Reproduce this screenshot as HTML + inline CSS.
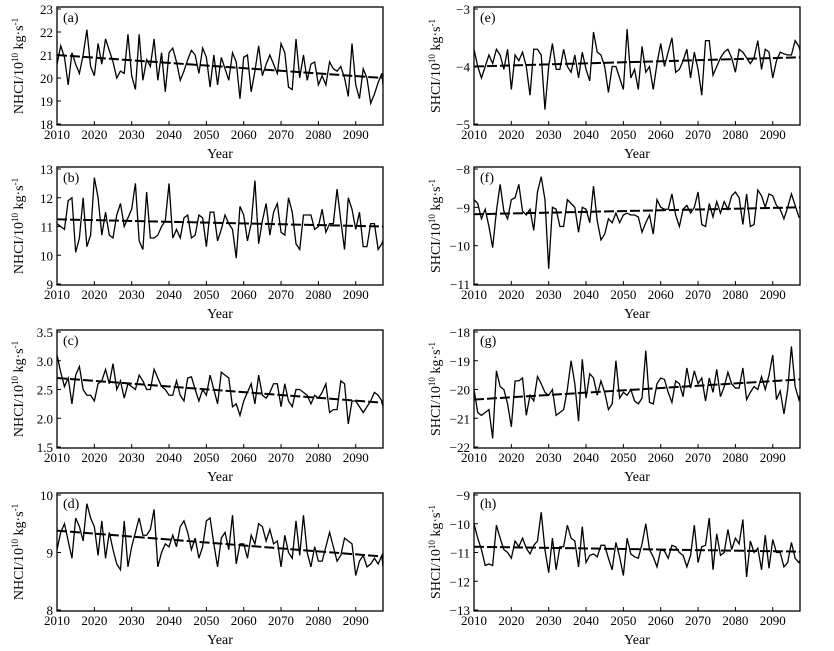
<!DOCTYPE html>
<html><head><meta charset="utf-8"><style>
html,body{margin:0;padding:0;background:#fff;}
svg{display:block;font-family:"Liberation Serif",serif;}
</style></head><body>
<svg id="c" width="834" height="651" viewBox="0 0 834 651"></svg>
<script>
const startYear = 2010;
const xTicks = [2010,2020,2030,2040,2050,2060,2070,2080,2090];
const valuesA = [20.6,21.4,20.9,19.7,21.1,20.6,20.2,21.0,22.1,20.5,20.1,21.5,20.6,21.7,21.2,20.7,20.0,20.3,20.2,21.9,20.1,19.5,21.9,19.9,20.8,20.5,21.7,19.9,21.1,19.4,21.1,21.3,20.7,19.9,20.3,20.8,21.2,21.0,20.2,21.3,20.9,19.6,21.0,19.7,20.9,20.4,19.9,21.1,20.7,19.1,20.9,21.0,19.4,20.3,21.4,20.1,20.6,21.0,20.6,20.2,21.5,21.1,19.6,19.5,21.7,20.0,21.0,19.9,20.6,20.7,19.7,20.1,19.7,20.7,20.4,20.3,20.5,20.0,19.2,21.5,19.7,19.1,20.4,20.0,18.9,19.3,19.8,20.2,18.6];
const valuesB = [11.1,11.0,10.9,11.9,12.0,10.1,10.6,12.0,10.3,10.7,12.7,12.0,10.7,11.5,10.7,10.6,11.4,11.8,11.0,11.3,11.6,12.5,10.5,10.2,12.2,10.6,10.6,10.7,11.0,11.2,12.5,10.6,10.9,10.6,11.3,11.4,10.6,10.7,11.4,11.3,10.3,11.5,11.5,10.5,10.9,11.4,11.1,10.9,9.9,11.7,11.4,10.5,11.1,12.6,10.4,11.2,11.8,10.7,11.5,11.8,10.8,10.7,12.0,11.5,10.4,10.2,11.4,11.4,11.4,10.9,11.0,11.6,10.8,11.1,11.1,12.3,11.2,10.2,12.0,11.6,10.9,11.5,10.3,10.3,11.1,11.1,10.2,10.4,10.8,12.0,9.8];
const valuesC = [3.1,2.8,2.55,2.7,2.25,2.75,2.9,2.5,2.4,2.4,2.3,2.6,2.65,2.85,2.6,2.95,2.5,2.65,2.35,2.6,2.55,2.5,2.75,2.65,2.5,2.5,2.85,2.7,2.55,2.5,2.4,2.4,2.65,2.4,2.3,2.7,2.72,2.5,2.3,2.5,2.4,2.75,2.5,2.25,2.8,2.75,2.7,2.2,2.25,2.05,2.3,2.45,2.6,2.25,2.75,2.4,2.35,2.45,2.6,2.6,2.2,2.6,2.3,2.2,2.5,2.5,2.45,2.4,2.25,2.4,2.35,2.45,2.6,2.1,2.15,2.15,2.65,2.6,1.9,2.3,2.3,2.2,2.1,2.2,2.3,2.45,2.4,2.3,1.95,2.2];
const valuesD = [9.05,9.35,9.5,9.2,8.9,9.6,9.45,9.2,9.85,9.6,9.45,8.95,9.55,8.9,9.35,9.05,8.8,8.7,9.55,8.75,9.1,9.35,9.6,9.3,9.3,9.4,9.75,8.75,9.0,9.15,9.1,9.3,9.1,9.45,9.55,9.35,9.05,9.25,8.9,9.1,9.55,9.6,9.15,8.75,9.25,9.35,9.05,9.65,8.8,9.15,9.15,8.9,9.3,9.15,9.5,9.45,9.2,9.4,9.15,9.2,8.75,9.3,9.0,8.9,9.55,8.95,9.65,9.0,8.75,9.1,8.85,8.85,9.1,9.35,9.1,8.85,8.95,9.25,9.2,9.15,8.6,8.85,8.95,8.75,8.8,8.9,8.8,8.95,8.3,8.7];
const valuesE = [-3.7,-4.0,-4.2,-4.0,-3.8,-3.95,-3.7,-3.8,-4.05,-3.7,-4.4,-3.8,-3.9,-3.75,-4.0,-4.5,-3.7,-3.7,-3.8,-4.75,-4.0,-3.6,-4.05,-4.05,-3.7,-4.0,-4.1,-3.8,-4.2,-3.75,-4.05,-4.25,-3.4,-3.75,-3.8,-4.0,-4.45,-4.0,-4.0,-4.2,-4.4,-3.35,-4.2,-4.05,-4.4,-3.65,-4.1,-4.0,-4.4,-3.95,-3.6,-4.0,-3.75,-3.5,-4.1,-4.05,-3.9,-3.7,-4.2,-3.75,-4.05,-4.5,-3.55,-3.55,-4.15,-4.0,-3.85,-3.75,-3.7,-3.85,-4.1,-3.7,-3.75,-3.85,-3.95,-3.85,-3.55,-4.05,-3.7,-3.75,-4.2,-3.9,-3.75,-3.78,-3.8,-3.8,-3.55,-3.65,-3.9];
const valuesF = [-8.8,-8.9,-9.3,-9.05,-9.5,-10.05,-9.1,-8.4,-9.1,-9.3,-8.8,-8.75,-8.4,-9.1,-9.2,-9.05,-9.6,-8.6,-8.2,-8.8,-10.6,-9.0,-9.05,-9.5,-9.5,-8.8,-8.9,-9.0,-9.65,-9.0,-9.05,-9.4,-8.45,-9.35,-9.85,-9.7,-9.3,-9.4,-9.15,-9.4,-9.2,-9.15,-9.2,-9.2,-9.25,-9.65,-9.4,-9.2,-9.7,-8.8,-9.0,-9.05,-9.05,-8.65,-9.2,-9.5,-9.05,-8.95,-9.15,-9.0,-8.6,-9.45,-9.5,-8.9,-9.25,-8.85,-9.15,-8.85,-9.05,-8.7,-8.6,-8.75,-9.45,-8.65,-9.5,-9.45,-8.55,-8.7,-9.0,-8.65,-8.7,-8.95,-9.05,-9.3,-9.0,-8.65,-8.95,-9.25,-9.25,-9.0];
const valuesG = [-20.0,-20.8,-20.9,-20.8,-20.7,-21.7,-19.35,-19.9,-20.0,-20.5,-21.3,-19.7,-19.7,-19.6,-20.9,-20.2,-20.4,-19.55,-19.8,-20.1,-20.2,-20.0,-20.9,-20.8,-20.7,-20.0,-19.0,-19.8,-21.1,-18.95,-20.3,-19.45,-19.6,-20.2,-19.7,-20.1,-20.7,-20.5,-19.0,-20.3,-20.1,-20.2,-20.0,-20.4,-20.5,-20.3,-18.65,-20.45,-20.5,-19.8,-19.6,-19.65,-20.1,-20.45,-19.7,-19.8,-20.25,-19.25,-19.95,-19.35,-19.8,-19.6,-20.4,-19.6,-20.1,-19.3,-20.25,-19.9,-19.4,-19.8,-19.95,-19.95,-19.25,-20.35,-20.1,-19.9,-20.0,-19.55,-20.0,-19.5,-18.8,-20.35,-20.05,-20.85,-20.0,-18.5,-19.9,-20.35,-19.8,-19.6];
const valuesH = [-10.0,-10.5,-10.9,-11.45,-11.4,-11.45,-10.05,-10.5,-10.9,-11.0,-11.2,-10.6,-10.8,-10.5,-10.85,-11.05,-10.75,-10.6,-9.6,-10.9,-11.7,-10.5,-11.6,-10.8,-10.8,-10.05,-10.5,-10.6,-11.5,-10.1,-11.35,-11.1,-11.05,-11.15,-10.75,-10.75,-11.2,-11.6,-10.65,-11.15,-11.8,-10.5,-11.05,-11.15,-11.2,-10.7,-10.0,-10.9,-11.15,-11.5,-10.9,-10.95,-11.2,-10.75,-10.8,-11.0,-11.1,-11.5,-11.1,-10.05,-11.35,-10.8,-10.75,-9.8,-11.6,-10.35,-11.1,-11.0,-10.2,-10.9,-10.5,-10.7,-9.85,-11.85,-10.6,-11.0,-10.85,-11.6,-10.4,-11.55,-10.55,-11.0,-11.0,-11.5,-11.35,-10.65,-11.2,-11.35,-11.1,-10.9];
const trendA = [21.0,20.0];
const trendB = [11.25,11.0];
const trendC = [2.7,2.27];
const trendD = [9.38,8.93];
const trendE = [-4.0,-3.84];
const trendF = [-9.18,-9.0];
const trendG = [-20.35,-19.65];
const trendH = [-10.8,-10.97];
const ticksA = [18,19,20,21,22,23];
const ticksB = [9,10,11,12,13];
const ticksC = [1.5,2.0,2.5,3.0,3.5];
const ticksD = [8,9,10];
const ticksE = [-5,-4,-3];
const ticksF = [-11,-10,-9,-8];
const ticksG = [-22,-21,-20,-19,-18];
const ticksH = [-13,-12,-11,-10,-9];

const NS = "http://www.w3.org/2000/svg";
const svg = document.getElementById('c');
function el(tag, attrs, parent){const e=document.createElementNS(NS,tag);for(const k in attrs)e.setAttribute(k,attrs[k]);(parent||svg).appendChild(e);return e;}
const X0 = 2010, X1 = 2097.3;
const rows = [7,167,330,493];
const cols = [57,474];
const W = 326, H = 118;
const panels = [
 {id:'a',c:0,r:0,v:valuesA,t:trendA,ticks:ticksA,fmt:0,pre:'NHCI'},
 {id:'b',c:0,r:1,v:valuesB,t:trendB,ticks:ticksB,fmt:0,pre:'NHCI'},
 {id:'c',c:0,r:2,v:valuesC,t:trendC,ticks:ticksC,fmt:1,pre:'NHCI'},
 {id:'d',c:0,r:3,v:valuesD,t:trendD,ticks:ticksD,fmt:0,pre:'NHCI'},
 {id:'e',c:1,r:0,v:valuesE,t:trendE,ticks:ticksE,fmt:0,pre:'SHCI'},
 {id:'f',c:1,r:1,v:valuesF,t:trendF,ticks:ticksF,fmt:0,pre:'SHCI'},
 {id:'g',c:1,r:2,v:valuesG,t:trendG,ticks:ticksG,fmt:0,pre:'SHCI'},
 {id:'h',c:1,r:3,v:valuesH,t:trendH,ticks:ticksH,fmt:0,pre:'SHCI'}
];
panels.forEach(p=>{
  const L=cols[p.c], T=rows[p.r];
  const ymin=p.ticks[0], ymax=p.ticks[p.ticks.length-1];
  const xs=y=>L+(y-X0)/(X1-X0)*W;
  const ys=v=>(T+H-1)-(v-ymin)/(ymax-ymin)*(H-3);
  const g=el('g',{});
  
  
  const clip=el('clipPath',{id:'clip-'+p.id},g);
  el('rect',{x:L,y:T,width:W,height:H},clip);
  // y ticks
  p.ticks.forEach(tv=>{
    const y=ys(tv);
    const tk=el('line',{x1:L,x2:L+4,y1:y,y2:y,stroke:'#000','stroke-width':1},g);
    
    
    const lab=el('text',{x:L-4,y:y+5,'text-anchor':'end','font-size':13},g);
    
    
    lab.textContent=(tv<0?'\u2212':'')+Math.abs(tv).toFixed(p.fmt);
  });
  xTicks.forEach(tv=>{
    const x=xs(tv);
    const tk=el('line',{x1:x,x2:x,y1:T+H,y2:T+H-4,stroke:'#000','stroke-width':1},g);
    
    
    const lab=el('text',{x:x,y:T+H+14,'text-anchor':'middle','font-size':13},g);
    
    
    lab.textContent=tv;
  });
  const xt=el('text',{x:L+W/2,y:T+H+33,'text-anchor':'middle','font-size':14},g);
  
  
  xt.textContent='Year';
  const yt=el('text',{x:0,y:0,'text-anchor':'middle','font-size':14,transform:`translate(${L-34},${T+H/2}) rotate(-90)`},g);
  
  
  yt.innerHTML=p.pre+'/10<tspan dy="-5" font-size="9">10</tspan><tspan dy="5"> kg\u00b7s</tspan><tspan dy="-5" font-size="9">-1</tspan>';
  // series
  const d=p.v.map((v,i)=>(i?'L':'M')+xs(startYear+i).toFixed(2)+','+ys(v).toFixed(2)).join(' ');
  const line=el('path',{d:d,fill:'none',stroke:'#000','stroke-width':1.3,'stroke-linejoin':'miter','clip-path':`url(#clip-${p.id})`},g);
  
  
  const tr=el('line',{x1:xs(X0),y1:ys(p.t[0]),x2:xs(X1),y2:ys(p.t[1]),stroke:'#000','stroke-width':2,'stroke-dasharray':'10,3'},g);
  
  
  const box=el('rect',{x:L,y:T,width:W,height:H,fill:'none',stroke:'#000','stroke-width':1.3},g);
  
  
  const pl=el('text',{x:L+6,y:T+15,'font-size':14},g);
  
  
  pl.textContent='('+p.id+')';
});
</script>
</body></html>
